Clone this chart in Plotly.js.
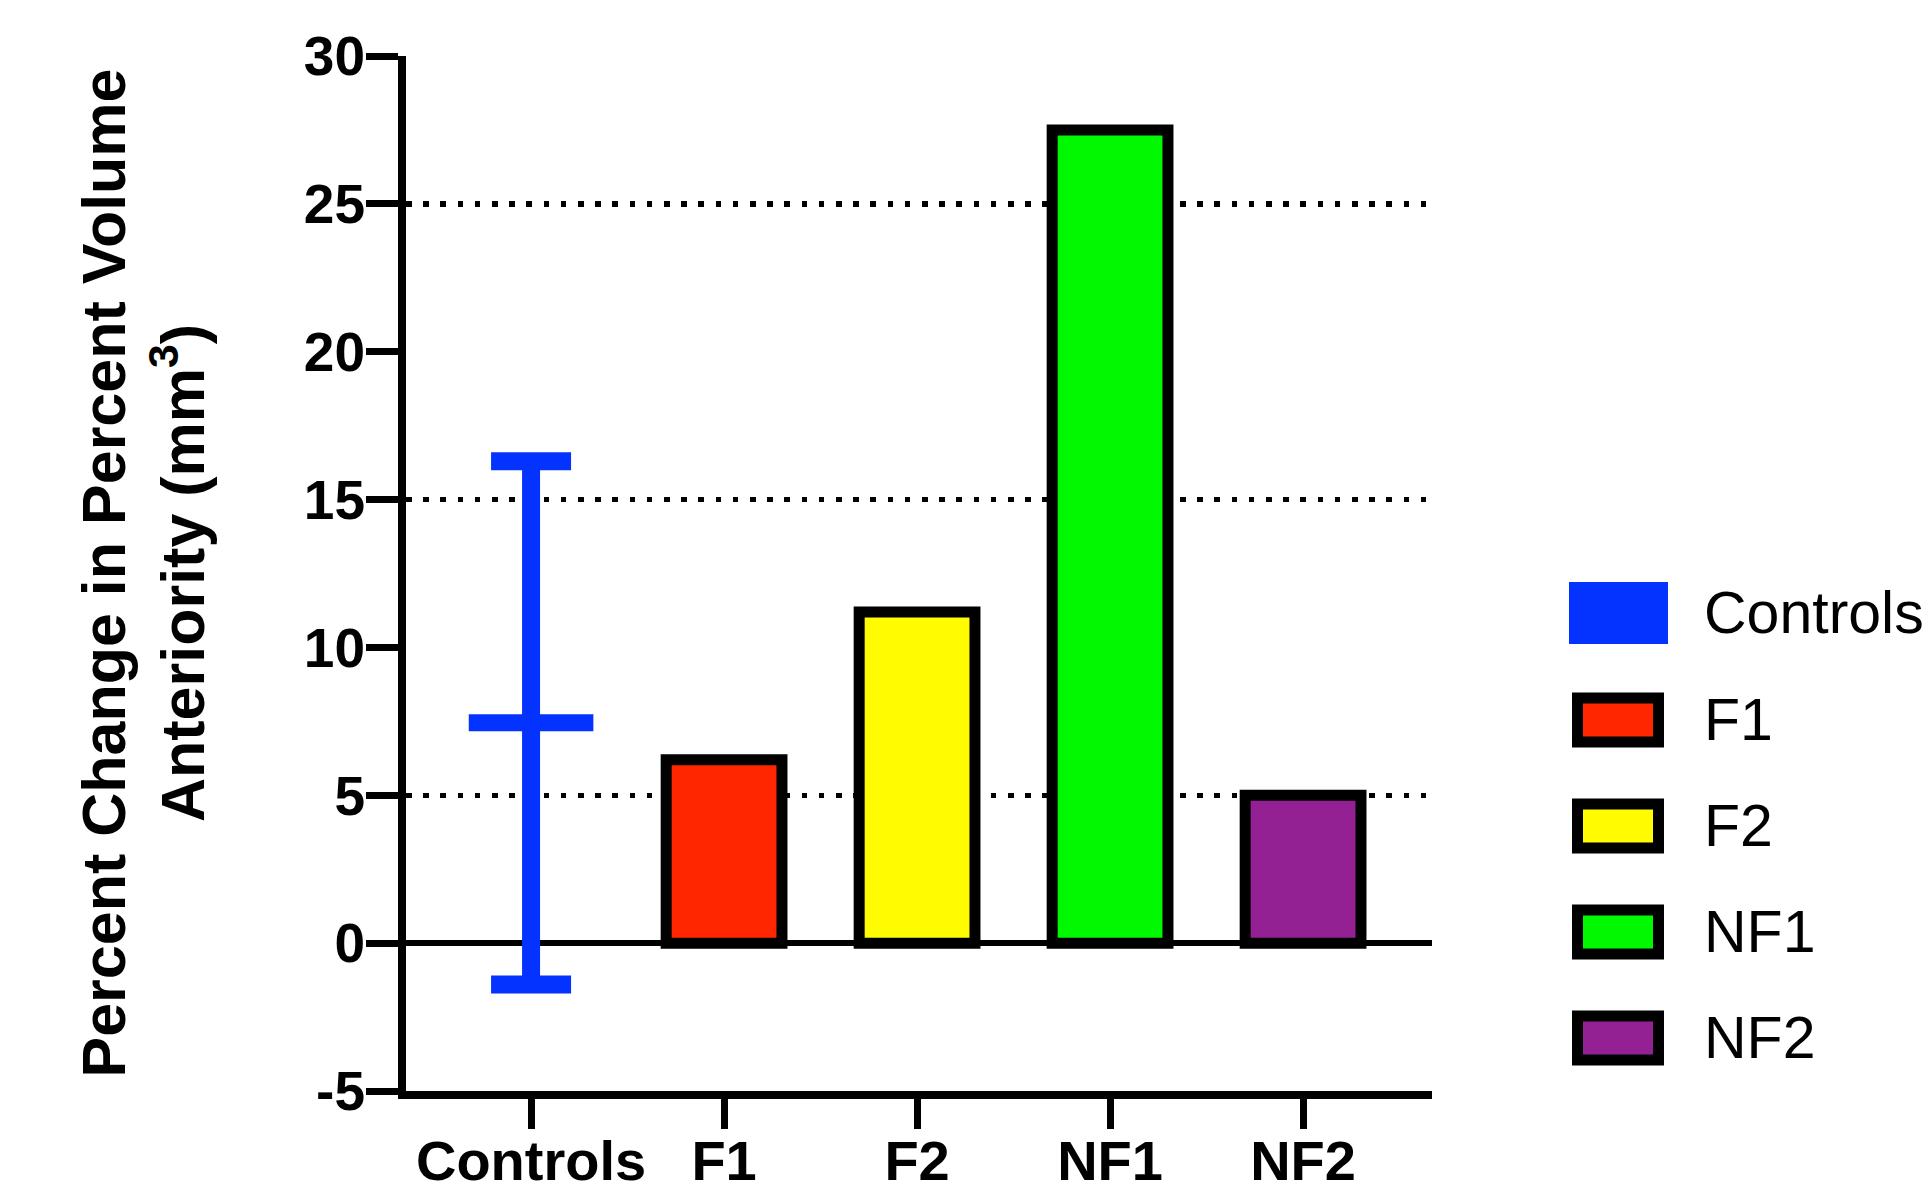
<!DOCTYPE html>
<html>
<head>
<meta charset="utf-8">
<script src="https://cdn.plot.ly/plotly-3.0.1.min.js"></script>
<style>
  html, body { margin: 0; padding: 0; background: #ffffff; }
  #chart { width: 1928px; height: 1191px; }
</style>
</head>
<body>
<div id="chart"></div>
<script>
// ---- data ----
const groups = ['Controls', 'F1', 'F2', 'NF1', 'NF2'];
const barGroups = ['F1', 'F2', 'NF1', 'NF2'];
const barValues = [6.2, 11.2, 27.5, 5.0];
const controlsMean = [7.45];
const controlsSD = [8.85];
const barColors = ['#FF2600', '#FFFB00', '#00F900', '#942193'];
const controlsColor = '#0433FF';
const yTickVals = [-5, 0, 5, 10, 15, 20, 25, 30];
const yTickText = ['-5', '0', '5', '10', '15', '20', '25', '30'];
const yTitle = 'Percent Change in Percent Volume<br>Anteriority (mm<sup>3</sup>)';

// ---- layout geometry (pixels) ----
const FIG_W = 1928, FIG_H = 1191;
const L = 406, T = 56, R = 496, B = 100;
const PW = FIG_W - L - R, PH = FIG_H - T - B;
const px2x = px => (px - L) / PW;
const py2y = py => (T + PH - py) / PH;

const FONT = 'Liberation Sans, Arial, Helvetica, sans-serif';

const traces = [
  {
    type: 'bar',
    x: barGroups,
    y: barValues,
    width: 0.6,
    marker: { color: barColors, line: { color: '#000000', width: 11 } },
    showlegend: false,
    hoverinfo: 'skip'
  },
  {
    type: 'scatter',
    mode: 'markers',
    x: ['Controls'],
    y: controlsMean,
    marker: { symbol: 'line-ew', size: 89, color: controlsColor, line: { color: controlsColor, width: 17 } },
    error_y: { type: 'data', array: controlsSD, visible: true, color: controlsColor, thickness: 18, width: 40 },
    showlegend: false,
    hoverinfo: 'skip'
  },
  {
    type: 'scatter',
    mode: 'markers',
    x: [],
    y: [],
    yaxis: 'y2',
    showlegend: false,
    hoverinfo: 'skip'
  }
];

// ---- custom legend (shapes + annotations) ----
const legendCentersY = [613, 720, 826, 932, 1038];
const shapes = [];
const annotations = [];
groups.forEach((g, i) => {
  const cy = legendCentersY[i];
  if (i === 0) {
    shapes.push({
      type: 'rect', xref: 'paper', yref: 'paper',
      x0: px2x(1569), x1: px2x(1668), y0: py2y(cy + 31), y1: py2y(cy - 31),
      fillcolor: controlsColor, line: { width: 0 }, layer: 'above'
    });
  } else {
    shapes.push({
      type: 'rect', xref: 'paper', yref: 'paper',
      x0: px2x(1577.5), x1: px2x(1658.5), y0: py2y(cy + 22), y1: py2y(cy - 22),
      fillcolor: barColors[i - 1], line: { width: 11, color: '#000000' }, layer: 'above'
    });
  }
  annotations.push({
    xref: 'paper', yref: 'paper', x: px2x(1702), y: py2y(cy),
    xanchor: 'left', yanchor: 'middle', showarrow: false,
    text: g, font: { family: FONT, size: 59, color: '#000000' }
  });
});

// y-axis title
annotations.push({
  xref: 'paper', yref: 'paper', x: px2x(143), y: 0.5,
  xanchor: 'center', yanchor: 'middle', showarrow: false, textangle: -90,
  text: yTitle,
  font: { family: FONT, size: 61, color: '#000000', weight: 'bold' }
});

const layout = {
  width: FIG_W, height: FIG_H,
  margin: { l: L, r: R, t: T, b: B, pad: 0 },
  paper_bgcolor: '#ffffff', plot_bgcolor: '#ffffff',
  showlegend: false,
  font: { family: FONT, color: '#000000' },
  xaxis: {
    type: 'category',
    categoryorder: 'array',
    categoryarray: groups,
    range: [-0.648, 4.668],
    showline: true, linecolor: '#000000', linewidth: 8,
    ticks: 'outside', ticklen: 30, tickwidth: 7, tickcolor: '#000000',
    ticklabelstandoff: -16,
    tickfont: { family: FONT, size: 56, color: '#000000', weight: 'bold' },
    showgrid: false, zeroline: false, fixedrange: true
  },
  yaxis: {
    range: [-5, 30],
    tickmode: 'array', tickvals: yTickVals, ticktext: yTickText,
    showline: true, linecolor: '#000000', linewidth: 8,
    ticks: 'outside', ticklen: 32, tickwidth: 7, tickcolor: '#000000',
    ticklabelstandoff: -10,
    tickfont: { family: FONT, size: 55, color: '#000000', weight: 'bold' },
    showgrid: false,
    zeroline: true, zerolinecolor: '#000000', zerolinewidth: 6,
    fixedrange: true
  },
  yaxis2: {
    overlaying: 'y', side: 'left', anchor: 'x',
    range: [-5, 30],
    tick0: 5, dtick: 10,
    showgrid: true, gridcolor: '#000000', gridwidth: 5.5, griddash: '5.5px,11.7px',
    showticklabels: false, ticks: '', showline: false, zeroline: false,
    fixedrange: true
  },
  shapes: shapes,
  annotations: annotations
};

Plotly.newPlot('chart', traces, layout, { displayModeBar: false, staticPlot: true });
</script>
</body>
</html>
